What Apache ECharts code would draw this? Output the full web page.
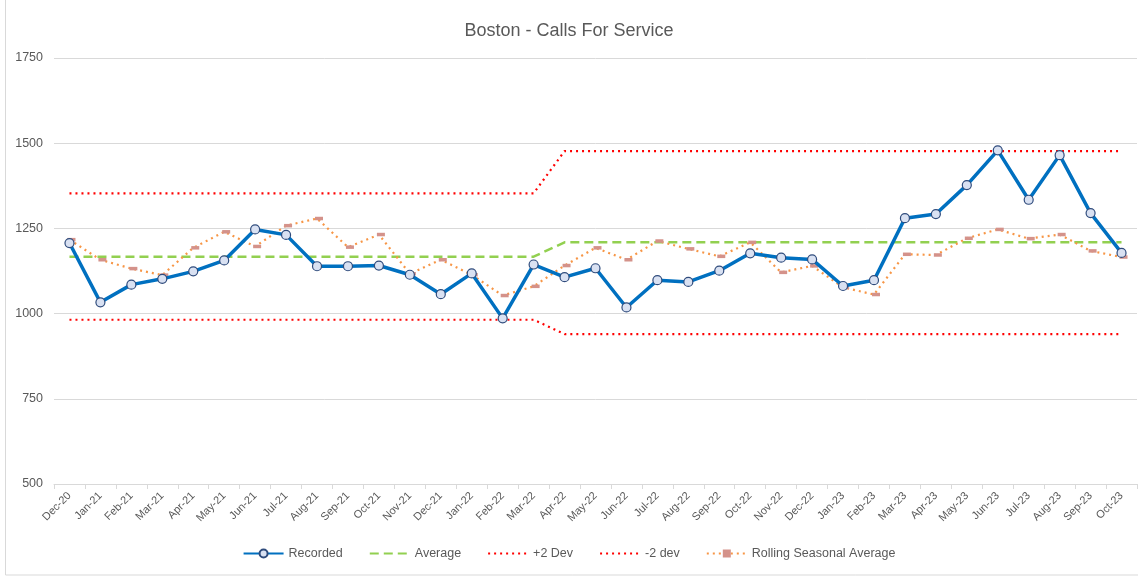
<!DOCTYPE html>
<html>
<head>
<meta charset="utf-8">
<script src="https://cdn.jsdelivr.net/npm/echarts@6/dist/echarts.min.js"></script>
<style>
  html, body { margin: 0; padding: 0; background: #fff; }
  #chart { width: 1138px; height: 577px; }
</style>
</head>
<body>
<div id="chart"></div>
<script>
const months = ['Dec-20','Jan-21','Feb-21','Mar-21','Apr-21','May-21','Jun-21','Jul-21','Aug-21','Sep-21','Oct-21','Nov-21',
  'Dec-21','Jan-22','Feb-22','Mar-22','Apr-22','May-22','Jun-22','Jul-22','Aug-22','Sep-22','Oct-22','Nov-22',
  'Dec-22','Jan-23','Feb-23','Mar-23','Apr-23','May-23','Jun-23','Jul-23','Aug-23','Sep-23','Oct-23'];

const recorded = [1207,1033,1085,1102,1124,1156,1247,1231,1139,1139,1141,1114,
  1057,1118,986,1144,1107,1133,1018,1098,1093,1126,1177,1164,
  1159,1081,1098,1280,1292,1377,1479,1334,1465,1295,1178];

const average = [1167,1167,1167,1167,1167,1167,1167,1167,1167,1167,1167,1167,
  1167,1167,1167,1167,1209,1209,1209,1209,1209,1209,1209,1209,
  1209,1209,1209,1209,1209,1209,1209,1209,1209,1209,1209];

const plus2Dev = [1353,1353,1353,1353,1353,1353,1353,1353,1353,1353,1353,1353,
  1353,1353,1353,1353,1477,1477,1477,1477,1477,1477,1477,1477,
  1477,1477,1477,1477,1477,1477,1477,1477,1477,1477,1477];

const minus2Dev = [982,982,982,982,982,982,982,982,982,982,982,982,
  982,982,982,982,940,940,940,940,940,940,940,940,
  940,940,940,940,940,940,940,940,940,940,940];

const rolling = [1217,1158,1132,1113,1193,1240,1197,1258,1279,1195,1232,1117,
  1158,1114,1053,1080,1141,1193,1158,1213,1190,1168,1209,1121,
  1140,1077,1056,1174,1172,1221,1247,1220,1232,1184,1166];

const yTicks = [500, 750, 1000, 1250, 1500, 1750];

const txt = '#595959';
const chart = echarts.init(document.getElementById('chart'));

const option = {
  backgroundColor: '#fff',
  textStyle: { fontFamily: 'Liberation Sans, Arial, sans-serif' },
  title: {
    text: 'Boston - Calls For Service',
    left: 'center',
    top: 17,
    textStyle: { color: txt, fontSize: 18, fontWeight: 'normal' }
  },
  graphic: [{
    type: 'rect',
    shape: { x: 5.5, y: -2, width: 1140, height: 577 },
    style: { fill: 'none', stroke: '#d9d9d9', lineWidth: 1 },
    silent: true
  }],
  legend: {
    bottom: 12,
    left: 'center',
    itemWidth: 40,
    itemHeight: 10,
    itemGap: 26,
    textStyle: { color: txt, fontSize: 12.5 },
    data: [
      { name: 'Recorded' },
      { name: 'Average', itemStyle: { opacity: 0 } },
      { name: '+2 Dev', itemStyle: { opacity: 0 } },
      { name: '-2 dev', itemStyle: { opacity: 0 } },
      { name: 'Rolling Seasonal Average' }
    ]
  },
  grid: { left: 54, right: 1, top: 58, bottom: 93, containLabel: false },
  xAxis: {
    type: 'category',
    data: months,
    boundaryGap: true,
    axisLine: { lineStyle: { color: '#d9d9d9' } },
    axisTick: { show: true, length: 5, lineStyle: { color: '#d9d9d9' } },
    axisLabel: { color: txt, fontSize: 11, rotate: 45, interval: 0, margin: 10 }
  },
  yAxis: {
    type: 'value',
    min: yTicks[0],
    max: yTicks[yTicks.length - 1],
    interval: 250,
    axisLine: { show: false },
    axisTick: { show: false },
    axisLabel: { color: txt, fontSize: 12.5, margin: 11, formatter: v => String(v) },
    splitLine: { lineStyle: { color: '#d9d9d9', width: 1 } }
  },
  series: [
    {
      name: 'Recorded',
      type: 'line',
      data: recorded,
      z: 5,
      symbol: 'circle',
      symbolSize: 9,
      lineStyle: { color: '#0070c0', width: 3.5 },
      itemStyle: { color: '#d9e1f2', borderColor: '#2f4b7c', borderWidth: 1.2 }
    },
    {
      name: 'Average',
      type: 'line',
      data: average,
      symbol: 'none',
      lineStyle: { color: '#92d050', width: 2.5, type: [9, 5] },
      itemStyle: { color: '#92d050' }
    },
    {
      name: '+2 Dev',
      type: 'line',
      data: plus2Dev,
      symbol: 'none',
      lineStyle: { color: '#ff0000', width: 2.2, type: [2, 4] },
      itemStyle: { color: '#ff0000' }
    },
    {
      name: '-2 dev',
      type: 'line',
      data: minus2Dev,
      symbol: 'none',
      lineStyle: { color: '#ff0000', width: 2.2, type: [2, 4] },
      itemStyle: { color: '#ff0000' }
    },
    {
      name: 'Rolling Seasonal Average',
      type: 'line',
      data: rolling,
      z: 3,
      symbol: 'rect',
      symbolSize: [8, 3.5],
      symbolOffset: [2, 0],
      lineStyle: { color: '#f79646', width: 2.2, type: [2, 4] },
      itemStyle: { color: '#d4928a' }
    }
  ]
};

option && chart.setOption(option);
</script>
</body>
</html>
